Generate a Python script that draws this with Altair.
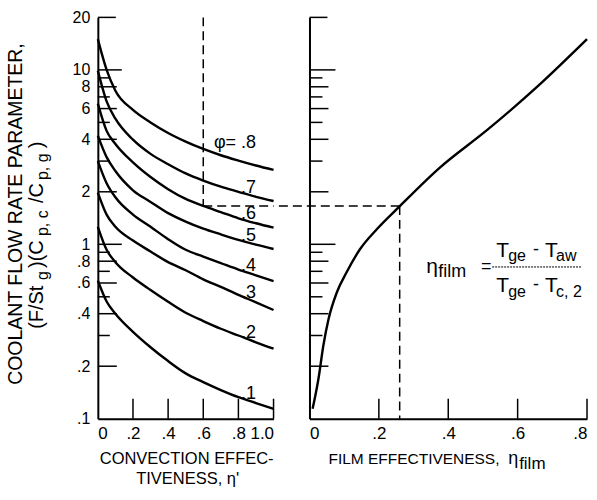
import altair as alt
import pandas as pd

FONT = "Liberation Sans"

# ---------------- data ----------------
eta_conv = [0.0, 0.05, 0.1, 0.2, 0.3, 0.4, 0.5, 0.6, 0.7, 0.8, 0.9, 1.0]
phi_levels = [0.8, 0.7, 0.6, 0.5, 0.4, 0.3, 0.2, 0.1]
phi_labels = ["\u03c6=  .8", ".7", ".6", ".5", ".4", ".3", ".2", ".1"]
w_phi = {
    0.8: [15.0, 10.0, 7.6, 5.9, 5.0, 4.35, 3.88, 3.52, 3.24, 3.02, 2.83, 2.67],
    0.7: [9.9, 6.6, 5.25, 3.98, 3.3, 2.88, 2.55, 2.32, 2.14, 2.0, 1.87, 1.77],
    0.6: [6.4, 4.47, 3.76, 2.95, 2.43, 2.07, 1.82, 1.66, 1.53, 1.41, 1.32, 1.245],
    0.5: [4.2, 3.16, 2.63, 2.04, 1.75, 1.51, 1.35, 1.23, 1.14, 1.06, 0.995, 0.94],
    0.4: [3.0, 2.24, 1.86, 1.48, 1.26, 1.07, 0.93, 0.85, 0.78, 0.716, 0.664, 0.615],
    0.3: [1.98, 1.48, 1.26, 1.05, 0.91, 0.79, 0.71, 0.63, 0.57, 0.513, 0.465, 0.42],
    0.2: [1.26, 0.93, 0.79, 0.645, 0.547, 0.468, 0.405, 0.363, 0.328, 0.30, 0.274, 0.252],
    0.1: [0.62, 0.47, 0.40, 0.315, 0.257, 0.214, 0.182, 0.162, 0.146, 0.133, 0.123, 0.114],
}

eta_film = [0.009, 0.026, 0.040, 0.055, 0.079, 0.107, 0.146, 0.194, 0.261, 0.371, 0.515, 0.659, 0.80]
w_film = [0.114, 0.17, 0.263, 0.373, 0.531, 0.691, 0.94, 1.22, 1.66, 2.70, 4.57, 8.09, 15.0]

# worked example (dashed construction)
ex_eta_conv = 0.6
ex_w = 1.66
ex_eta_film = 0.26

y_label_values = [0.1, 0.2, 0.4, 0.6, 0.8, 1, 2, 4, 6, 8, 10, 20]
ticks_long = [1, 10]
ticks_major = [0.2, 0.4, 0.6, 0.8, 2, 4, 6, 8]
ticks_top = [20]
ticks_minor = [0.3, 0.5, 0.7, 0.9, 3, 5, 7, 9]
x_left_values = [0, 0.2, 0.4, 0.6, 0.8, 1.0]
x_right_values = [0, 0.2, 0.4, 0.6, 0.8]

# ---------------- layout constants ----------------
W1, W2, H = 176, 278, 402
SPACING = 36

rows = []
for phi, lab in zip(phi_levels, phi_labels):
    for e, w in zip(eta_conv, w_phi[phi]):
        rows.append({"eta": e, "w": w, "phi": phi, "label": lab})
df_conv = pd.DataFrame(rows)
df_film = pd.DataFrame({"eta": eta_film, "w": w_film})
one = pd.DataFrame({"a": [0]})

yscale = alt.Scale(type="log", domain=[0.1, 20], nice=False)
xs_left = alt.Scale(domain=[0, 1.0], nice=False, zero=False)
xs_right = alt.Scale(domain=[0, 0.8], nice=False, zero=False)

x_expr_left = "datum.value == 0 ? '0' : datum.value == 1 ? '1.0' : replace(format(datum.value, '.1f'), '0.', '.')"
x_expr_right = "datum.value == 0 ? '0' : replace(format(datum.value, '.1f'), '0.', '.')"
y_expr = "datum.value >= 1 ? format(datum.value, 'd') : replace(format(datum.value, '.1f'), '0.', '.')"

common_axis = dict(domainColor="black", domainWidth=2, labelColor="black", labelFont=FONT,
                   grid=False, ticks=False, title=None, labelOverlap=False)

y_axis_left = alt.Axis(values=y_label_values, labelExpr=y_expr, labelFontSize=16,
                       labelPadding=8, **common_axis)
y_axis_right = alt.Axis(labels=False, values=y_label_values, **common_axis)
x_axis_left = alt.Axis(values=x_left_values, labelExpr=x_expr_left, labelFontSize=17,
                       labelPadding=7, **common_axis)
x_axis_right = alt.Axis(values=x_right_values, labelExpr=x_expr_right, labelFontSize=17,
                        labelPadding=7, **common_axis)


def ticks_y(values, length, yaxis):
    return alt.Chart(pd.DataFrame({"v": values})).mark_rule(color="black", strokeWidth=1.5).encode(
        y=alt.Y("v:Q", scale=yscale, axis=yaxis), x=alt.value(0), x2=alt.value(length))


def ticks_x(values, xscale, length, xaxis):
    return alt.Chart(pd.DataFrame({"v": values})).mark_rule(color="black", strokeWidth=1.5).encode(
        x=alt.X("v:Q", scale=xscale, axis=xaxis), y=alt.value(H), y2=alt.value(H - length))


def txt(s, x, y, size, angle=None, align="left", baseline="alphabetic"):
    kw = dict(text=s, fontSize=size, font=FONT, align=align, baseline=baseline, color="black")
    if angle is not None:
        kw["angle"] = angle
    return alt.Chart(one).mark_text(**kw).encode(x=alt.value(x), y=alt.value(y))


dash = [9, 5]

# ---------------- left panel ----------------
XL = dict(scale=xs_left, axis=x_axis_left)
YL = dict(scale=yscale, axis=y_axis_left)

curves = alt.Chart(df_conv).mark_line(interpolate="monotone", color="black", strokeWidth=2.4).encode(
    x=alt.X("eta:Q", **XL), y=alt.Y("w:Q", **YL), detail="phi:N")

lab_other = alt.Chart(df_conv).transform_filter("datum.eta == 0.9 && datum.phi < 0.75").mark_text(
    align="right", baseline="alphabetic", dy=-4, fontSize=18, font=FONT, color="black").encode(
    x=alt.X("eta:Q", **XL), y=alt.Y("w:Q", **YL), text="label:N")
lab_top = alt.Chart(df_conv).transform_filter("datum.eta == 0.9 && datum.phi > 0.75").mark_text(
    align="right", baseline="alphabetic", dy=-18, fontSize=18, font=FONT, color="black").encode(
    x=alt.X("eta:Q", **XL), y=alt.Y("w:Q", **YL), text="label:N")

ex_left = pd.DataFrame({"x": [ex_eta_conv], "x2": [1.0], "ytop": [20], "y": [ex_w]})
dash_v_left = alt.Chart(ex_left).mark_rule(color="black", strokeWidth=1.5, strokeDash=dash).encode(
    x=alt.X("x:Q", **XL), y=alt.Y("ytop:Q", **YL), y2="y:Q")
dash_h_left = alt.Chart(ex_left).mark_rule(color="black", strokeWidth=1.5, strokeDash=dash).encode(
    x=alt.X("x:Q", **XL), x2="x2:Q", y=alt.Y("y:Q", **YL))

yl_title = [
    txt("COOLANT FLOW RATE PARAMETER,", -82, 197, 19.5, angle=270, align="center", baseline="middle"),
    txt("(F/St", -61, 312, 20, angle=270, baseline="middle"),
    txt("g", -55, 263, 16, angle=270, baseline="middle"),
    txt(")(C", -61, 251, 20, angle=270, baseline="middle"),
    txt("p, c", -55, 219, 16, angle=270, baseline="middle"),
    txt("/C", -61, 186, 20, angle=270, baseline="middle"),
    txt("p, g", -55, 163, 16, angle=270, baseline="middle"),
    txt(")", -61, 131, 20, angle=270, baseline="middle"),
]
xl_title = [
    txt("CONVECTION EFFEC-", 89, 447, 16.5, align="center"),
    txt("TIVENESS, \u03b7'", 90, 467, 16.5, align="center"),
]

left = alt.layer(
    curves,
    ticks_y(ticks_long, 24, y_axis_left), ticks_y(ticks_major, 19, y_axis_left),
    ticks_y(ticks_top, 18, y_axis_left), ticks_y(ticks_minor, 12, y_axis_left),
    ticks_x([v for v in x_left_values if v > 0], xs_left, 20, x_axis_left),
    dash_v_left, dash_h_left, lab_other, lab_top,
    *yl_title, *xl_title,
).properties(width=W1, height=H)

# ---------------- right panel ----------------
XR = dict(scale=xs_right, axis=x_axis_right)
YR = dict(scale=yscale, axis=y_axis_right)

film = alt.Chart(df_film).mark_line(interpolate="monotone", color="black", strokeWidth=2.4).encode(
    x=alt.X("eta:Q", **XR), y=alt.Y("w:Q", **YR))
ex_right = pd.DataFrame({"x": [ex_eta_film], "y": [ex_w], "ybot": [0.1]})
dash_h_right = alt.Chart(ex_right).mark_rule(color="black", strokeWidth=1.5, strokeDash=dash).encode(
    x=alt.X("x:Q", **XR), x2=alt.value(-SPACING), y=alt.Y("y:Q", **YR))
dash_v_right = alt.Chart(ex_right).mark_rule(color="black", strokeWidth=1.5, strokeDash=dash).encode(
    x=alt.X("x:Q", **XR), y=alt.Y("y:Q", **YR), y2="ybot:Q")

formula = [
    txt("\u03b7", 117, 256, 21),
    txt("film", 129, 260, 18),
    txt("=", 177, 255, 18, align="center"),
    txt("T", 187, 240, 21),
    txt("ge", 199, 244, 16),
    txt("-", 227, 238, 18, align="center"),
    txt("T", 236, 240, 21),
    txt("aw", 247, 244, 16),
    txt("T", 187, 275, 21),
    txt("ge", 199, 280, 16),
    txt("-", 227, 273, 18, align="center"),
    txt("T", 236, 275, 21),
    txt("c, 2", 247, 280, 16),
    alt.Chart(one).mark_rule(color="black", strokeWidth=1, strokeDash=[2, 1]).encode(
        x=alt.value(183), x2=alt.value(272), y=alt.value(250)),
]
xr_title = [
    txt("FILM EFFECTIVENESS,", 19, 447, 15.5),
    txt("\u03b7", 199, 447, 18),
    txt("film", 210, 452, 17),
]

right = alt.layer(
    film,
    ticks_y(ticks_long, 26, y_axis_right), ticks_y(ticks_major, 19, y_axis_right),
    ticks_y(ticks_top, 18, y_axis_right), ticks_y(ticks_minor, 13, y_axis_right),
    ticks_x([v for v in x_right_values if v > 0], xs_right, 20, x_axis_right),
    dash_h_right, dash_v_right,
    *formula, *xr_title,
).properties(width=W2, height=H)

chart = alt.hconcat(left, right, spacing=SPACING, bounds="flush").properties(
    padding={"left": 5, "top": 9, "right": 5, "bottom": 5},
    background="white",
).configure_view(stroke=None)

chart.save("out.html", embed_options={"renderer": "svg", "actions": False})
